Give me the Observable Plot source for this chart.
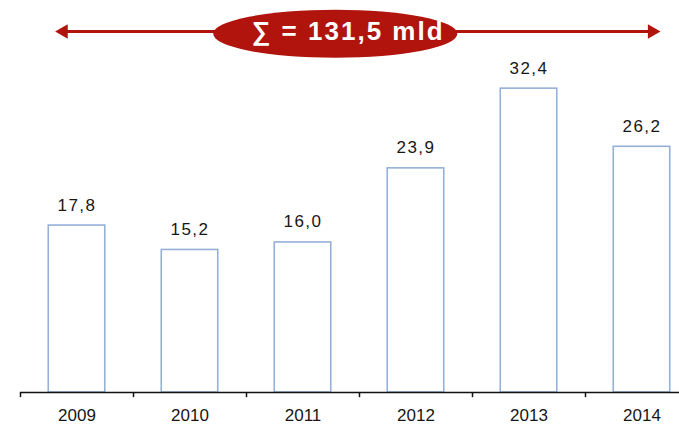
<!DOCTYPE html>
<html><head><meta charset="utf-8">
<script src="https://cdn.jsdelivr.net/npm/d3@7"></script>
<script src="https://cdn.jsdelivr.net/npm/@observablehq/plot@0.6"></script>
<style>html,body{margin:0;padding:0;overflow:hidden;background:#fff}</style>
</head><body><div id="chart"></div>
<script>
const years = [2009, 2010, 2011, 2012, 2013, 2014];
const values = [17.8, 15.2, 16.0, 23.9, 32.4, 26.2];
const valueLabels = ["17,8", "15,2", "16,0", "23,9", "32,4", "26,2"];
const yearLabels = ["2009", "2010", "2011", "2012", "2013", "2014"];
const totalLabel = "\u2211 = 131,5 mld";

const data = years.map((year, i) => ({year, value: values[i], label: valueLabels[i], yearLabel: yearLabels[i]}));

// annotation placement (data units)
const arrowY = 38.5;
const arrowLeft = 2008.81, arrowRight = 2014.16;
const ellipseX = 2011.29, ellipseY = 38.2;
const titleX = 2011.40;

const red = "#b0140c";
const barStroke = "#95b0d9";
const ink = "#161616";

const chart = Plot.plot({
  width: 679, height: 426,
  marginLeft: 20, marginRight: 0, marginTop: 0, marginBottom: 34,
  x: {type: "linear", domain: [2008.5, 2014.5], range: [20, 698], axis: null},
  y: {domain: [0, 41.8], range: [392, 0], axis: null},
  style: {fontFamily: "'Liberation Sans', Arial, sans-serif", background: "white", overflow: "hidden"},
  marks: [
    Plot.rectY(data, {x1: d => d.year - 0.25, x2: d => d.year + 0.25, y1: 0, y2: "value", fill: "white", stroke: barStroke, strokeWidth: 1.6}),
    Plot.ruleY([0], {stroke: "#111", strokeWidth: 1.5}),
    Plot.ruleX(years, {x: d => d - 0.5, y1: 0, y2: -0.55, stroke: "#111", strokeWidth: 1.5}),
    Plot.text(data, {x: "year", y: "value", text: "label", dy: -20.5, fontSize: 17, fill: ink}),
    Plot.text(data, {x: "year", y: () => 0, text: "yearLabel", dy: 23, fontSize: 17, fill: ink}),
    Plot.ruleY([arrowY], {x1: arrowLeft + 0.05, x2: arrowRight - 0.05, stroke: red, strokeWidth: 3}),
    Plot.dot([arrowLeft], {x: d => d, y: () => arrowY, symbol: "triangle", r: 5.4, rotate: -90, dx: 8, fill: red, stroke: "none"}),
    Plot.dot([arrowRight], {x: d => d, y: () => arrowY, symbol: "triangle", r: 5.4, rotate: 90, dx: -8, fill: red, stroke: "none"}),
    Plot.text([totalLabel], {x: () => titleX, y: () => arrowY, text: d => d, fontSize: 26, fontWeight: "bold", fill: "white"})
  ]
});

document.getElementById("chart").appendChild(chart);

const svg = d3.select(chart);
const sx = chart.scale("x"), sy = chart.scale("y");
const textGroups = svg.selectAll("g[aria-label='text']").nodes();
d3.select(textGroups[0]).selectAll("text").style("letter-spacing", "1.5px");
const titleG = textGroups[2];
d3.select(titleG).selectAll("text").style("letter-spacing", "2px");
// ellipse behind the total label, placed through the plot's scales
svg.insert("ellipse", () => titleG)
  .attr("cx", sx.apply(ellipseX))
  .attr("cy", sy.apply(ellipseY))
  .attr("rx", sx.apply(ellipseX + 1.08) - sx.apply(ellipseX))
  .attr("ry", sy.apply(0) - sy.apply(2.56))
  .attr("fill", red);
</script>
</body></html>
